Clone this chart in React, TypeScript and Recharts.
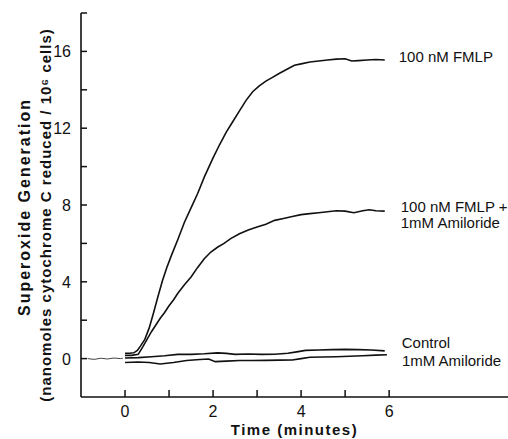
import { LineChart, Line, XAxis, YAxis, Label } from 'recharts';

// time (minutes) and superoxide values
const fmlpTime = [0, 0.1, 0.2, 0.28, 0.35, 0.45, 0.55, 0.65, 0.75, 0.85, 0.95, 1.05, 1.2, 1.35, 1.5, 1.65, 1.8, 2.0, 2.15, 2.3, 2.45, 2.6, 2.75, 2.9, 3.05, 3.2, 3.35, 3.5, 3.7, 3.85, 4.0, 4.2, 4.4, 4.6, 4.8, 5.0, 5.15, 5.3, 5.5, 5.7, 5.9];
const fmlpValues = [0.28, 0.28, 0.3, 0.42, 0.65, 1.0, 1.6, 2.4, 3.25, 4.05, 4.75, 5.35, 6.2, 7.1, 7.85, 8.6, 9.45, 10.45, 11.15, 11.8, 12.35, 12.9, 13.45, 13.9, 14.2, 14.45, 14.65, 14.85, 15.1, 15.28, 15.35, 15.45, 15.5, 15.55, 15.6, 15.62, 15.5, 15.52, 15.55, 15.58, 15.55];

const fmlpAmilTime = [0, 0.15, 0.3, 0.4, 0.5, 0.6, 0.7, 0.8, 0.9, 1.0, 1.1, 1.2, 1.35, 1.5, 1.65, 1.8, 1.95, 2.1, 2.25, 2.4, 2.6, 2.8, 3.0, 3.2, 3.4, 3.6, 3.8, 4.0, 4.2, 4.4, 4.6, 4.8, 5.0, 5.2, 5.4, 5.55, 5.7, 5.9];
const fmlpAmilValues = [0.17, 0.17, 0.22, 0.6, 1.0, 1.4, 1.75, 2.1, 2.4, 2.75, 3.05, 3.4, 3.85, 4.25, 4.75, 5.2, 5.55, 5.8, 6.0, 6.25, 6.5, 6.7, 6.85, 7.0, 7.2, 7.3, 7.4, 7.5, 7.55, 7.6, 7.65, 7.7, 7.68, 7.6, 7.7, 7.75, 7.7, 7.68];

const controlTime = [0, 0.3, 0.6, 0.9, 1.2, 1.5, 1.8, 2.1, 2.3, 2.5, 2.8, 3.1, 3.4, 3.7, 3.9, 4.1, 4.4, 4.7, 5.0, 5.3, 5.6, 5.9];
const controlValues = [0.03, 0.05, 0.1, 0.15, 0.22, 0.22, 0.25, 0.3, 0.27, 0.22, 0.24, 0.22, 0.23, 0.28, 0.35, 0.43, 0.45, 0.47, 0.48, 0.47, 0.45, 0.4];

const amilTime = [0, 0.3, 0.55, 0.8, 1.1, 1.4, 1.7, 1.9, 2.05, 2.3, 2.6, 2.9, 3.2, 3.5, 3.8, 4.0, 4.2, 4.5, 4.8, 5.1, 5.4, 5.7, 5.95];
const amilValues = [-0.2, -0.18, -0.2, -0.28, -0.2, -0.1, -0.05, -0.02, -0.16, -0.13, -0.1, -0.1, -0.09, -0.08, -0.07, 0.0, 0.07, 0.08, 0.1, 0.12, 0.15, 0.18, 0.2];

const baseTime = [-0.85, -0.7, -0.55, -0.4, -0.25, -0.1, -0.05];
const baseValues = [0.0, -0.04, 0.02, -0.02, 0.03, 0.0, 0.02];

const xTicks = [0, 1, 2, 3, 4, 5, 6];
const xLabeled = [0, 2, 4, 6];
const yTicks = [0, 2, 4, 6, 8, 10, 12, 14, 16, 18];
const yLabeled = [0, 4, 8, 12, 16];

const toPoints = (t: number[], v: number[]) => t.map((x, i) => ({ x, y: v[i] }));

const FONT = "'Liberation Sans', Arial, sans-serif";
const INK = '#111';

function XTick({ x, y, payload }: any) {
  const v = payload.value;
  return (
    <g>
      <line x1={x} x2={x} y1={y} y2={y - 7} stroke={INK} strokeWidth={1.5} />
      {xLabeled.includes(v) && (
        <text x={x} y={y + 20} textAnchor="middle" fontSize={16} fill={INK} fontFamily={FONT}>{v}</text>
      )}
    </g>
  );
}

function YTick({ x, y, payload }: any) {
  const v = payload.value;
  return (
    <g>
      <line x1={x} x2={x + 6} y1={y} y2={y} stroke={INK} strokeWidth={1.5} />
      {yLabeled.includes(v) && (
        <text x={x - 10} y={y + 6} textAnchor="end" fontSize={16} fill={INK} fontFamily={FONT}>{v}</text>
      )}
    </g>
  );
}

function endLabel(lines: string[], dx: number, dy: number, count: number) {
  return (props: any) => {
    if (props.index !== count - 1) return <g />;
    return (
      <g>
        {lines.map((s, i) => (
          <text key={i} x={props.x + dx} y={props.y + dy + i * 16} fontSize={15} fill={INK} fontFamily={FONT}>{s}</text>
        ))}
      </g>
    );
  };
}

function YTitle() {
  return (
    <g fontFamily={FONT} fontWeight="bold" fill={INK}>
      <text transform="translate(30,207) rotate(-90)" textAnchor="middle" fontSize={16} letterSpacing={2}>
        Superoxide Generation
      </text>
      <text transform="translate(51,215) rotate(-90)" textAnchor="middle" fontSize={15} letterSpacing={1}>
        (nanomoles cytochrome C reduced / 10⁶ cells)
      </text>
    </g>
  );
}

export default function App() {
  return (
    <div style={{ position: 'absolute', left: 0, top: 0, width: 508, height: 439, background: '#fff' }}>
      <LineChart width={508} height={439} margin={{ top: 13, right: 0, bottom: 0, left: 0 }}>
        <XAxis
          dataKey="x"
          type="number"
          domain={[-1, 8.7]}
          ticks={xTicks}
          height={42}
          tickSize={0}
          tickMargin={0}
          tickLine={false}
          axisLine={{ stroke: INK, strokeWidth: 1.6 }}
          tick={<XTick />}
        >
          <Label
            value="Time  (minutes)"
            position="insideBottom"
            offset={4}
            style={{ fontFamily: FONT, fontWeight: 'bold', fontSize: 15, letterSpacing: 1.5, fill: INK }}
          />
        </XAxis>
        <YAxis
          type="number"
          domain={[-2, 18]}
          ticks={yTicks}
          width={81}
          tickSize={0}
          tickMargin={0}
          tickLine={false}
          axisLine={{ stroke: INK, strokeWidth: 1.6 }}
          tick={<YTick />}
        >
          <Label content={<YTitle />} />
        </YAxis>
        <Line data={toPoints(baseTime, baseValues)} dataKey="y" stroke="#444" strokeWidth={1} dot={false} isAnimationActive={false} />
        <Line
          data={toPoints(fmlpTime, fmlpValues)}
          dataKey="y"
          stroke={INK}
          strokeWidth={1.6}
          dot={false}
          isAnimationActive={false}
          label={endLabel(['100 nM FMLP'], 14, 2, fmlpTime.length)}
        />
        <Line
          data={toPoints(fmlpAmilTime, fmlpAmilValues)}
          dataKey="y"
          stroke={INK}
          strokeWidth={1.6}
          dot={false}
          isAnimationActive={false}
          label={endLabel(['100 nM FMLP +', '1mM Amiloride'], 16, 1, fmlpAmilTime.length)}
        />
        <Line
          data={toPoints(controlTime, controlValues)}
          dataKey="y"
          stroke={INK}
          strokeWidth={1.6}
          dot={false}
          isAnimationActive={false}
          label={endLabel(['Control'], 17, -3, controlTime.length)}
        />
        <Line
          data={toPoints(amilTime, amilValues)}
          dataKey="y"
          stroke={INK}
          strokeWidth={1.6}
          dot={false}
          isAnimationActive={false}
          label={endLabel(['1mM Amiloride'], 15, 11, amilTime.length)}
        />
      </LineChart>
    </div>
  );
}
